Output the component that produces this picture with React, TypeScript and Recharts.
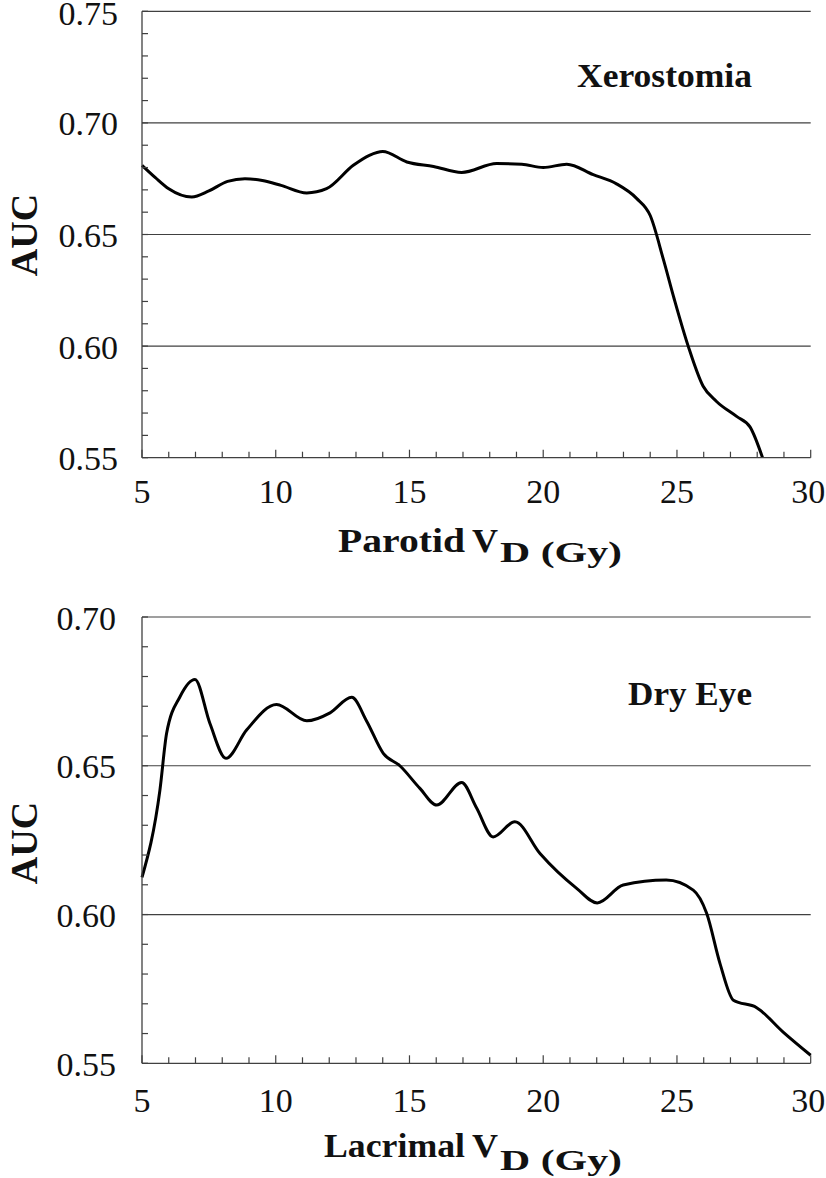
import React from 'react';
import { LineChart, Line, XAxis, YAxis, ReferenceLine } from 'recharts';

// dose axis (Gy), labelled every 5
const doseLabels = [5, 10, 15, 20, 25, 30];

// Xerostomia: parotid V_D vs AUC
const xeroDose = [5, 5.5, 6, 6.86, 7.5, 8.2, 8.85, 9.5, 10.2, 11.16, 11.9, 12.9, 13.5, 14.0, 14.9, 15.9, 16.95, 18.26, 19.2, 20.0, 20.88, 21.87, 22.74, 23.49, 24.0, 24.5, 24.9, 25.42, 25.98, 26.48, 27.23, 27.73, 28.2];
const xeroAuc = [0.681, 0.6755, 0.6705, 0.6668, 0.6695, 0.6738, 0.675, 0.6742, 0.672, 0.6686, 0.6705, 0.681, 0.6855, 0.6872, 0.6825, 0.6805, 0.6778, 0.6818, 0.6815, 0.68, 0.6815, 0.6768, 0.6727, 0.6662, 0.6585, 0.6385, 0.621, 0.6, 0.582, 0.5752, 0.5685, 0.5638, 0.55];
const xeroMajors = [0.55, 0.6, 0.65, 0.7, 0.75];

// Dry eye: lacrimal V_D vs AUC
const dryDose = [5, 5.67, 5.92, 6.42, 6.98, 7.54, 8.14, 8.91, 10.03, 11.16, 12.03, 12.84, 13.4, 14.02, 14.64, 15.39, 16.02, 16.95, 17.5, 18.13, 18.94, 19.88, 21.25, 22.02, 22.99, 24.6, 25.61, 26.11, 26.61, 27.11, 27.98, 28.97, 30];
const dryAuc = [0.6125, 0.6418, 0.6609, 0.6732, 0.679, 0.6642, 0.6525, 0.662, 0.6706, 0.6651, 0.6678, 0.673, 0.665, 0.6542, 0.65, 0.6424, 0.6368, 0.6444, 0.636, 0.6261, 0.6312, 0.6205, 0.6088, 0.6039, 0.6099, 0.6116, 0.6082, 0.6004, 0.5835, 0.5712, 0.5687, 0.5605, 0.5527];
const dryMajors = [0.55, 0.6, 0.65, 0.7];

const SERIF = "'Liberation Serif', 'Times New Roman', Times, serif";
const AXIS = '#404040';

const fillSteps = (from: number, to: number, step: number) => {
  const out: number[] = [];
  for (let v = from; v <= to + step / 2; v += step) out.push(Math.round(v / step) * step);
  return out.map((v) => Math.round(v * 1000) / 1000);
};

type Box = { x: number; w: number; base: number };

type PanelProps = {
  height: number;
  top: number;
  bottom: number;
  dose: number[];
  auc: number[];
  majors: number[];
  yLabelGap: number;
  xLabelGap: number;
  aucY: number;
  title: string;
  titleBox: Box;
  xName: string;
  xNameBox: Box;
  vBox: Box;
  subBox: Box;
};

const regular = { fontFamily: SERIF, fontSize: 34, fill: '#111' };
const bold = (size: number) => ({ fontFamily: SERIF, fontWeight: 700, fontSize: size, fill: '#111' });

const Panel = (p: PanelProps) => {
  const data = p.dose.map((d, i) => ({ dose: d, auc: p.auc[i] }));
  const yTicks = fillSteps(p.majors[0], p.majors[p.majors.length - 1], 0.01);
  const xTicks = fillSteps(doseLabels[0], doseLabels[doseLabels.length - 1], 1);
  const isMajorY = (v: number) => p.majors.some((m) => Math.abs(m - v) < 1e-6);
  const lastDose = doseLabels[doseLabels.length - 1];

  const renderYTick = (props: any) => {
    const { x, y, payload } = props;
    const v = payload.value;
    return (
      <g>
        <line x1={x} x2={x + 6} y1={y} y2={y} stroke={AXIS} strokeWidth={1.2} />
        {isMajorY(v) && (
          <text x={x - p.yLabelGap} y={Math.max(y + 12.5, 25)} textAnchor="end" style={regular}>
            {v.toFixed(2)}
          </text>
        )}
      </g>
    );
  };

  const renderXTick = (props: any) => {
    const { x, y, payload } = props;
    const v = payload.value;
    const major = doseLabels.includes(v);
    // keep the last label inside the picture's right edge
    const last = v === lastDose;
    return (
      <g>
        <line x1={x} x2={x} y1={y} y2={y - (major ? 8 : 6)} stroke={AXIS} strokeWidth={1.2} />
        {major && (
          <text
            x={last ? x + 14.5 : x}
            y={y + p.xLabelGap}
            textAnchor={last ? 'end' : 'middle'}
            style={regular}
          >
            {v}
          </text>
        )}
      </g>
    );
  };

  const xLabel = () => (
    <g>
      <text x={p.xNameBox.x} y={p.xNameBox.base} style={bold(34)} textLength={p.xNameBox.w} lengthAdjust="spacingAndGlyphs">
        {p.xName}
      </text>
      <text x={p.vBox.x} y={p.vBox.base} style={bold(33)} textLength={p.vBox.w} lengthAdjust="spacingAndGlyphs">
        V
      </text>
      <text x={p.subBox.x} y={p.subBox.base} style={bold(30)} textLength={p.subBox.w} lengthAdjust="spacingAndGlyphs">
        D (Gy)
      </text>
      <text x={p.titleBox.x} y={p.titleBox.base} style={bold(33)} textLength={p.titleBox.w} lengthAdjust="spacingAndGlyphs">
        {p.title}
      </text>
    </g>
  );

  const yLabel = () => (
    <text transform={`translate(37, ${p.aucY}) rotate(-90)`} x={0} y={0} textAnchor="middle" style={bold(38)}>
      AUC
    </text>
  );

  return (
    <LineChart
      width={826}
      height={p.height}
      data={data}
      margin={{ top: p.top, right: 15.3, left: 0, bottom: p.bottom }}
    >
      <XAxis
        type="number"
        dataKey="dose"
        domain={[5, 30]}
        ticks={xTicks}
        interval={0}
        height={60}
        tickSize={0}
        tickMargin={0}
        tickLine={false}
        tick={renderXTick}
        axisLine={{ stroke: AXIS, strokeWidth: 1.3 }}
        label={{ content: xLabel }}
      />
      <YAxis
        type="number"
        domain={[p.majors[0], p.majors[p.majors.length - 1]]}
        ticks={yTicks}
        interval={0}
        width={142}
        tickSize={0}
        tickMargin={0}
        tickLine={false}
        tick={renderYTick}
        allowDataOverflow
        axisLine={{ stroke: AXIS, strokeWidth: 1.3 }}
        label={{ content: yLabel }}
      />
      {p.majors.slice(1).map((m) => (
        <ReferenceLine key={m} y={m} stroke={AXIS} strokeWidth={1.2} />
      ))}
      <Line
        type="monotone"
        dataKey="auc"
        stroke="#000"
        strokeWidth={3}
        dot={false}
        activeDot={false}
        isAnimationActive={false}
      />
    </LineChart>
  );
};

export default function App() {
  return (
    <div style={{ position: 'absolute', left: 0, top: 0, width: 826, height: 1178, background: '#fff' }}>
      <Panel
        height={590}
        top={11.3}
        bottom={72.3}
        dose={xeroDose}
        auc={xeroAuc}
        majors={xeroMajors}
        yLabelGap={24}
        xLabelGap={45}
        aucY={235}
        title="Xerostomia"
        titleBox={{ x: 577, w: 175, base: 87 }}
        xName="Parotid"
        xNameBox={{ x: 338, w: 127, base: 552 }}
        vBox={{ x: 472, w: 26, base: 552 }}
        subBox={{ x: 500, w: 122, base: 562 }}
      />
      <Panel
        height={588}
        top={27}
        bottom={54.7}
        dose={dryDose}
        auc={dryAuc}
        majors={dryMajors}
        yLabelGap={26}
        xLabelGap={49}
        aucY={253}
        title="Dry Eye"
        titleBox={{ x: 628, w: 124, base: 115 }}
        xName="Lacrimal"
        xNameBox={{ x: 324, w: 141, base: 567 }}
        vBox={{ x: 472, w: 26, base: 567 }}
        subBox={{ x: 500, w: 122, base: 580 }}
      />
    </div>
  );
}
